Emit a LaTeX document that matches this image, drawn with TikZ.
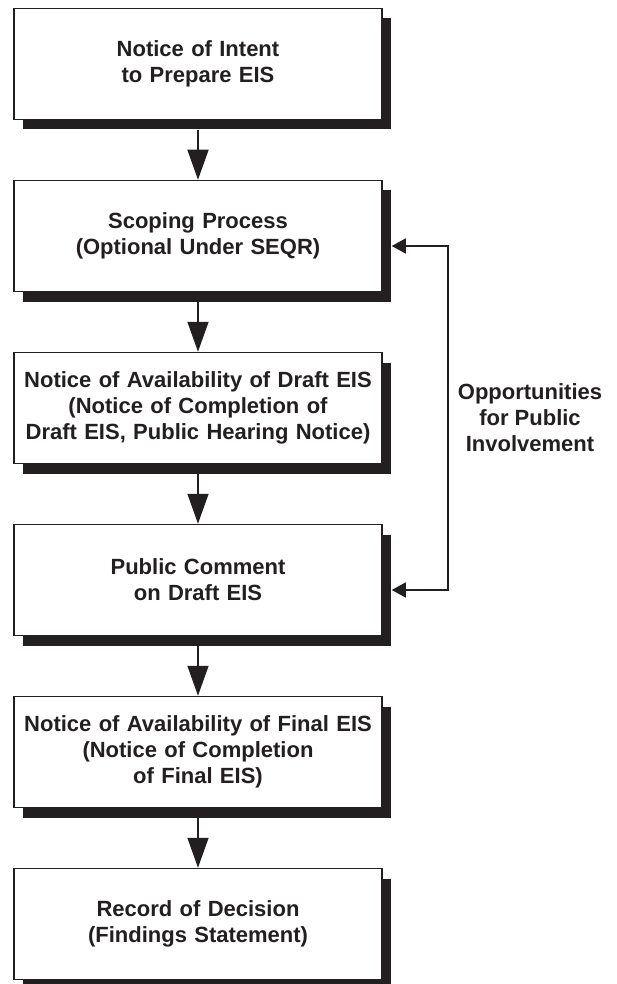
\documentclass[tikz,border=0pt]{standalone}
\usepackage{fontspec}
\setmainfont{Liberation Sans}
\usetikzlibrary{arrows.meta,shadows}
\definecolor{ink}{RGB}{35,31,32}

\begin{document}
\begin{tikzpicture}[x=1pt,y=-1pt,
    stepbox/.style={draw=ink,line width=1.5pt,fill=white,minimum width=368pt,minimum height=111pt,
      inner sep=0pt,text width=360pt,align=center,text=ink,
      font=\fontsize{22}{26}\selectfont\bfseries,
      drop shadow={shadow xshift=9pt,shadow yshift=-10pt,fill=ink,opacity=1,draw=none}},
    arr/.style={draw=ink,line width=1.5pt,-{Triangle[length=30pt,width=21pt]}},
    sidearr/.style={draw=ink,line width=1.5pt,{Triangle[length=14pt,width=15pt]}-{Triangle[length=14pt,width=15pt]}},
    note/.style={align=center,text=ink,font=\fontsize{22}{26}\selectfont\bfseries}]
    \useasboundingbox (0,0) rectangle (617,984);

    \node[stepbox] (intent) at (198,64)  {Notice of Intent\\to Prepare EIS};
    \node[stepbox] (scope) at (198,236) {Scoping Process\\(Optional Under SEQR)};
    \node[stepbox] (draft) at (198,408) {Notice of Availability of Draft EIS\\(Notice of Completion of\\Draft EIS, Public Hearing Notice)};
    \node[stepbox] (public) at (198,580) {Public Comment\\on Draft EIS};
    \node[stepbox] (final) at (198,752) {Notice of Availability of Final EIS\\(Notice of Completion\\of Final EIS)};
    \node[stepbox] (record) at (198,924) {Record of Decision\\(Findings Statement)};

    \node[note] (oppty) at (530,418) {Opportunities\\for Public\\Involvement};

    \draw[arr] ([yshift=-10pt]intent.south) -- (scope.north);
    \draw[arr] ([yshift=-10pt]scope.south) -- (draft.north);
    \draw[arr] ([yshift=-10pt]draft.south) -- (public.north);
    \draw[arr] ([yshift=-10pt]public.south) -- (final.north);
    \draw[arr] ([yshift=-10pt]final.south) -- (record.north);

    \draw[sidearr] ([xshift=9pt,yshift=-10pt]scope.east) -- ++(56,0) |- ([xshift=9pt,yshift=-10pt]public.east);
\end{tikzpicture}
\end{document}
